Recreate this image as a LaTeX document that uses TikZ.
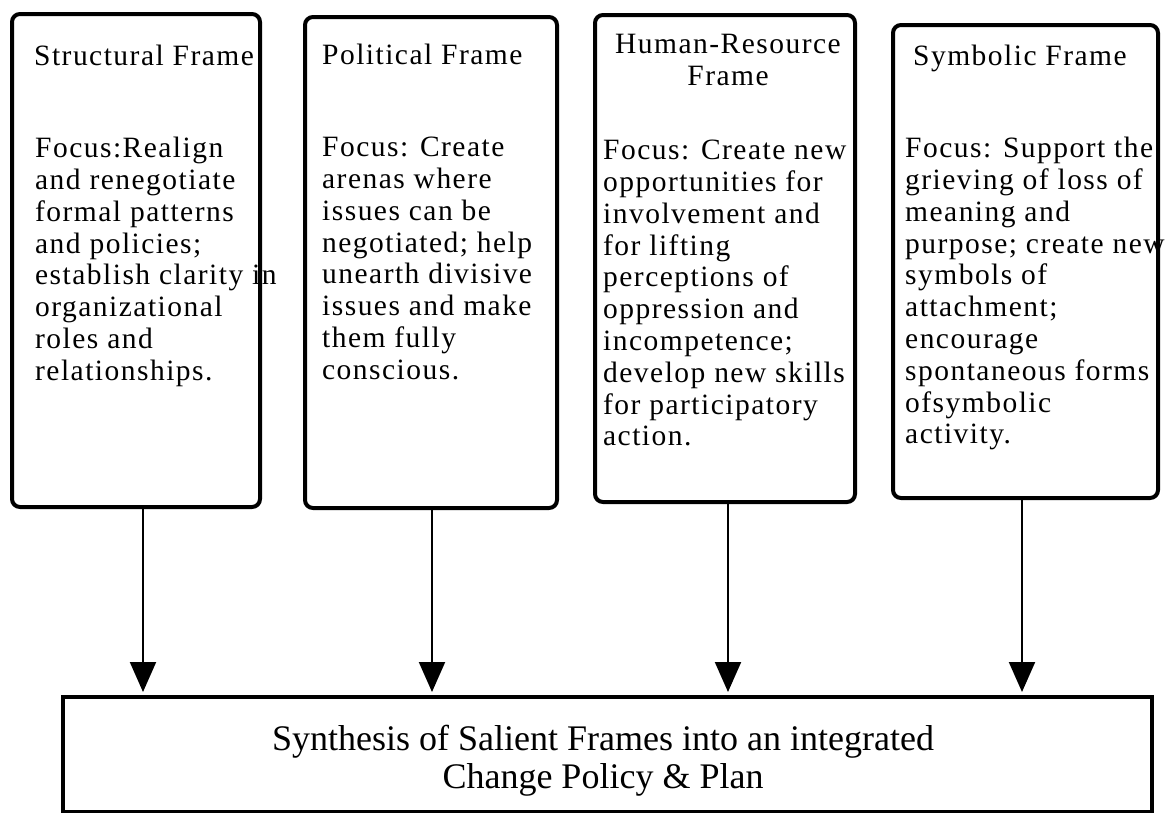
\documentclass[tikz,border=0pt]{standalone}
\usepackage{fontspec}
\newfontfamily\framefont[LetterSpace=5]{Liberation Serif}
\newfontfamily\synthfont{Liberation Serif}
\usetikzlibrary{arrows.meta,calc}

\begin{document}
\begin{tikzpicture}[x=1pt,y=-1pt]
	\tikzstyle{frame}=[draw,line width=4pt,rounded corners=8pt,inner sep=0pt]
	\tikzstyle{synthbox}=[draw,line width=4pt,inner sep=0pt]
	\tikzstyle{txt}=[anchor=base west,align=left,inner sep=0pt,
					 font=\framefont\fontsize{29.5}{31.8}\selectfont]
	\tikzstyle{feed}=[line width=2pt,-{Triangle[width=26pt,length=30pt]},shorten >=3pt]

	\useasboundingbox (0,0) rectangle (1168,812);

	% frames
	\foreach \name/\x/\y/\w/\h in {S/136/260.5/248/493, P/431/262.5/252/491,
		H/725/258.5/260/487, Y/1025.5/261.5/265/473}
		\node[frame,minimum width=\w pt,minimum height=\h pt] (\name) at (\x,\y) {};

	% synthesis
	\node[synthbox,minimum width=1089pt,minimum height=115pt] (synth) at (607.5,754.5) {};
	\node[align=center,inner sep=0pt,anchor=base,
		  font=\synthfont\fontsize{36}{38}\selectfont] (synthtext) at (603,788)
		{Synthesis of Salient Frames into an integrated\\Change Policy \& Plan};

	% titles
	\node[txt] (S-title) at (34,65) {Structural Frame};
	\node[txt] (P-title) at (322,64) {Political Frame};
	\node[txt,align=center,anchor=base] (H-title) at (728,85) {Human-Resource\\Frame};
	\node[txt] (Y-title) at (913,65) {Symbolic Frame};

	% focus
	\node[txt,anchor=north west] (S-focus) at (35,137) {Focus:Realign\\and renegotiate\\formal patterns\\and policies;\\establish clarity in\\organizational\\roles and\\relationships.};
	\node[txt,anchor=north west] (P-focus) at (322,137) {Focus: Create\\arenas where\\issues can be\\negotiated; help\\unearth divisive\\issues and make\\them fully\\conscious.};
	\node[txt,anchor=north west] (H-focus) at (603,140) {Focus: Create new\\opportunities for\\involvement and\\for lifting\\perceptions of\\oppression and\\incompetence;\\develop new skills\\for participatory\\action.};
	\node[txt,anchor=north west] (Y-focus) at (905,137) {Focus: Support the\\grieving of loss of\\meaning and\\purpose; create new\\symbols of\\attachment;\\encourage\\spontaneous forms\\ofsymbolic\\activity.};

	% arrows
	\foreach \name/\dx in {S/7, P/1, H/3, Y/-3.5}
		\draw[feed] ([xshift=\dx pt]\name.south) -- ([xshift=\dx pt]\name.south |- synth.north);
\end{tikzpicture}
\end{document}
